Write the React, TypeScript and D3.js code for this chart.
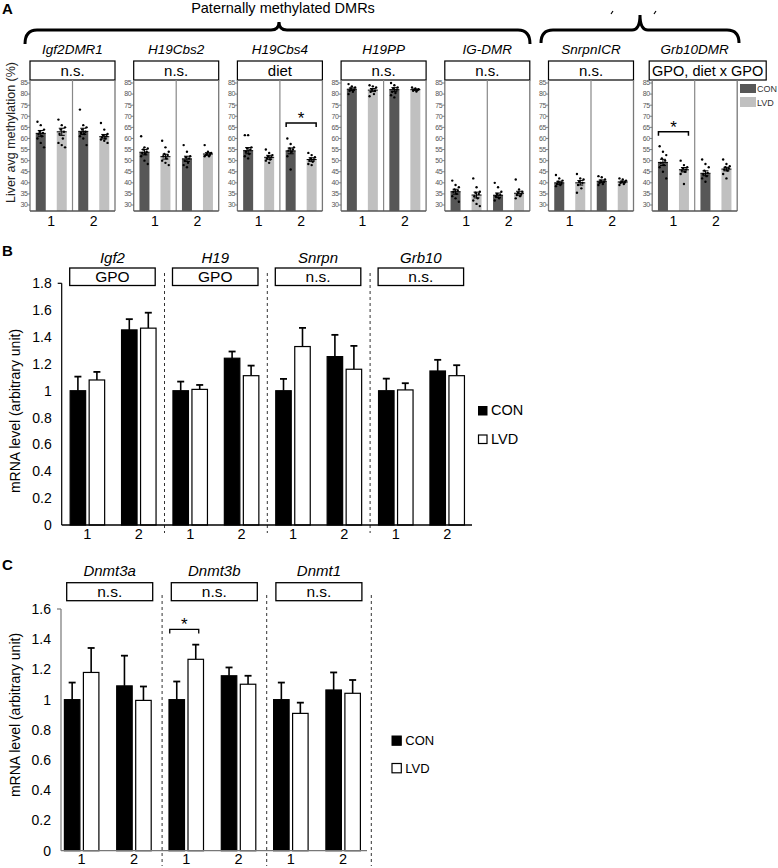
import React from "react";
import * as d3 from "d3";

const FONT = "'Liberation Sans', Arial, Helvetica, sans-serif";

// ---------------- Panel A data ----------------
const dmrNames = ["Igf2DMR1", "H19Cbs2", "H19Cbs4", "H19PP", "IG-DMR", "SnrpnICR", "Grb10DMR"];
const dmrStats = ["n.s.", "n.s.", "diet", "n.s.", "n.s.", "n.s.", "GPO, diet x GPO"];
const generations = ["1", "2"];
const diets = ["CON", "LVD"];
const methTicks = [30, 35, 40, 45, 50, 55, 60, 65, 70, 75, 80, 85];
// order: CON gen1, LVD gen1, CON gen2, LVD gen2
const methMeans = [
  [62.3, 63.0, 63.2, 60.8],
  [53.8, 51.8, 50.8, 53.0],
  [54.5, 51.5, 54.4, 50.5],
  [82.2, 81.8, 82.0, 82.0],
  [36.0, 34.5, 34.4, 35.3],
  [40.0, 40.0, 40.7, 40.4],
  [49.2, 45.9, 44.3, 46.2],
];
const methSem = [
  [1.3, 1.6, 1.4, 1.0],
  [1.2, 1.1, 1.2, 0.6],
  [1.4, 0.9, 1.3, 0.8],
  [0.6, 0.7, 0.9, 0.3],
  [1.1, 1.3, 1.0, 0.9],
  [0.7, 1.0, 0.6, 0.4],
  [1.4, 1.0, 1.1, 0.8],
];
const methPoints = [
  [
    [67.5, 66, 64, 63, 62.5, 62, 61, 60, 58, 56],
    [68.5, 66, 65, 64, 63, 62, 60, 58, 57, 56],
    [73, 66, 65, 64, 63, 62.5, 62, 61, 60, 57],
    [67, 64, 62, 61.5, 61, 60.5, 60, 59.5, 59, 58],
  ],
  [
    [61, 56, 55.5, 55, 54, 53.5, 53, 52, 50, 48.5],
    [59, 56, 54, 53, 52.5, 52, 51, 50, 49, 48],
    [57, 54, 52, 51.5, 51, 50, 49, 48, 47],
    [57, 54, 53.5, 53, 53, 52.5, 52, 52],
  ],
  [
    [61.5, 61.5, 56, 55.5, 55, 54, 53, 52, 51],
    [55, 53.5, 52.5, 52, 51.5, 51, 50.5, 50, 49],
    [60, 57.5, 56, 55.5, 55, 54.5, 54, 52, 46],
    [53.5, 52.5, 51.5, 51, 50.5, 50, 49.5, 48.5, 48],
  ],
  [
    [84.5, 83.5, 83, 82.5, 82, 81.5, 81, 80],
    [84, 83.5, 83, 82, 81.5, 81, 80, 79],
    [85, 84, 83, 82.5, 82, 81, 80.5, 79.5, 78.5],
    [83, 82.5, 82.2, 82, 81.8, 81.5, 81.2],
  ],
  [
    [41, 39, 38, 37, 36.5, 36, 35, 34, 33, 31.5],
    [42, 38, 36, 35.5, 35, 34, 33, 32, 30.5, 29.5],
    [40, 38, 36, 35, 34.5, 34, 33, 32],
    [41.5, 37, 36, 35.5, 35, 34.5, 34, 33],
  ],
  [
    [43.5, 42, 41, 40.5, 40, 39.5, 39, 38.5],
    [44, 42, 41.5, 40.5, 40, 39, 37.5, 35.5],
    [43, 42.5, 41.5, 41, 40.5, 40, 39.5, 39],
    [42, 41.5, 41, 40.5, 40.3, 40, 39.5, 39],
  ],
  [
    [56.5, 54, 52.5, 51, 50, 49, 48, 47, 45, 42],
    [50, 48, 47, 46.5, 46, 45.5, 45, 44, 39.5],
    [50.5, 48.5, 47, 45.5, 44.5, 44, 43, 42, 40.5],
    [50.5, 48.5, 47.5, 47, 46.5, 46, 45.5, 44, 42],
  ],
];
const sigA = [
  { dmr: 2, gen: "2", level: 67.0 },
  { dmr: 6, gen: "1", level: 63.0 },
];

// ---------------- Panel B data ----------------
const genesB = ["Igf2", "H19", "Snrpn", "Grb10"];
const statsB = ["GPO", "GPO", "n.s.", "n.s."];
const meansB = [
  [1.0, 1.08, 1.453, 1.466],
  [1.0, 1.01, 1.242, 1.112],
  [1.0, 1.329, 1.254, 1.16],
  [1.0, 1.006, 1.147, 1.112],
];
const errsB = [
  [0.105, 0.06, 0.08, 0.115],
  [0.068, 0.033, 0.05, 0.075],
  [0.088, 0.139, 0.162, 0.174],
  [0.09, 0.05, 0.083, 0.078],
];
const ticksB = [0, 0.2, 0.4, 0.6, 0.8, 1.0, 1.2, 1.4, 1.6, 1.8];
const tickLabelsB = ["0", "0.2", "0.4", "0.6", "0.8", "1", "1.2", "1.4", "1.6", "1.8"];

// ---------------- Panel C data ----------------
const genesC = ["Dnmt3a", "Dnmt3b", "Dnmt1"];
const statsC = ["n.s.", "n.s.", "n.s."];
const meansC = [
  [1.0, 1.18, 1.091, 0.995],
  [1.0, 1.267, 1.158, 1.102],
  [1.0, 0.909, 1.064, 1.042],
];
const errsC = [
  [0.113, 0.162, 0.2, 0.092],
  [0.12, 0.097, 0.055, 0.056],
  [0.113, 0.071, 0.116, 0.088],
];
const ticksC = [0, 0.2, 0.4, 0.6, 0.8, 1.0, 1.2, 1.4, 1.6];
const tickLabelsC = ["0", "0.2", "0.4", "0.6", "0.8", "1", "1.2", "1.4", "1.6"];
const sigC = [{ gene: 1, gen: "1", level: 1.465 }];

const DARK = "#575757";
const LIGHT = "#c0c0c0";

function PanelA() {
  const y = d3.scaleLinear().domain([27.3, 85]).range([211, 83]);
  const base = y(27.3);
  const off = d3.scalePoint<string>().domain(diets).range([-10.5, 10.5]);
  const barW = 10;
  return (
    <g>
      <text x={2} y={14} fontSize={15} fontWeight="bold">A</text>
      <text x={283} y={13} fontSize={14.5} textAnchor="middle">Paternally methylated DMRs</text>
      <path d="M25,44 Q25,30 37,30 L271,30 Q279,30 279,22 Q279,30 287,30 L518,30 Q530,30 530,44" fill="none" stroke="#000" strokeWidth={3} />
      <path d="M541,43 Q541,30 553,30 L632,30 Q640,30 640,15 Q640,30 648,30 L727,30 Q739,30 739,43" fill="none" stroke="#000" strokeWidth={3} />
      <path d="M611,14 L613,11 M654,14 L656,11" stroke="#000" strokeWidth={1.2} />
      <text transform="translate(15,132.5) rotate(-90)" fontSize={12.5} textAnchor="middle" fill="#222">Liver avg methylation (%)</text>
      {dmrNames.map((name, i) => {
        const left = 30 + i * 103.7;
        const w = 85;
        const x = d3.scaleBand<string>().domain(generations).range([left, left + w]);
        const stat = dmrStats[i];
        const wide = stat.length > 6;
        const boxX = wide ? left - 3 : left;
        const boxW = wide ? 117 : w;
        return (
          <g key={name}>
            <text x={left + w / 2} y={53.5} fontSize={13.5} fontStyle="italic" textAnchor="middle">{name}</text>
            <rect x={boxX} y={61} width={boxW} height={19} fill="#fff" stroke="#000" strokeWidth={1.2} />
            <text x={boxX + boxW / 2} y={75.5} fontSize={wide ? 14.5 : 15} textAnchor="middle">{stat}</text>
            <line x1={left} x2={left} y1={80} y2={base} stroke="#777" strokeWidth={1.3} />
            <line x1={left + w} x2={left + w} y1={80} y2={base} stroke="#777" strokeWidth={1.3} />
            <line x1={left + w / 2} x2={left + w / 2} y1={80} y2={base} stroke="#888" strokeWidth={1.2} />
            {methTicks.map((t) => (
              <g key={t}>
                <line x1={left - 2.5} x2={left} y1={y(t)} y2={y(t)} stroke="#666" strokeWidth={0.8} />
                <text x={left - 2.5} y={y(t) + 2.4} fontSize={7} textAnchor="end" fill="#555" letterSpacing={-0.4}>{t}</text>
              </g>
            ))}
            {generations.map((g, gi) => {
              const gc = (x(g) as number) + x.bandwidth() / 2;
              return (
                <g key={g}>
                  {diets.map((d, di) => {
                    const idx = gi * 2 + di;
                    const m = methMeans[i][idx];
                    const s = methSem[i][idx];
                    const cx = gc + (off(d) as number);
                    return (
                      <g key={d}>
                        <rect x={cx - barW / 2} y={y(m)} width={barW} height={base - y(m)} fill={di === 0 ? DARK : LIGHT} />
                        {methPoints[i][idx].map((v, k) => (
                          <circle key={k} cx={cx + (((k * 3) % 7) - 3) * 1.1} cy={y(v)} r={1.2} fill="#000" />
                        ))}
                        <line x1={cx} x2={cx} y1={y(m - s)} y2={y(m + s)} stroke="#000" strokeWidth={1} />
                        <line x1={cx - 3} x2={cx + 3} y1={y(m + s)} y2={y(m + s)} stroke="#000" strokeWidth={1} />
                        <line x1={cx - 3} x2={cx + 3} y1={y(m - s)} y2={y(m - s)} stroke="#000" strokeWidth={1} />
                        <line x1={cx - 5} x2={cx + 5} y1={y(m)} y2={y(m)} stroke="#000" strokeWidth={1} />
                      </g>
                    );
                  })}
                  <text x={gc} y={225.5} fontSize={14} textAnchor="middle">{g}</text>
                </g>
              );
            })}
            <line x1={left} x2={left + w} y1={base} y2={base} stroke="#555" strokeWidth={1.4} />
          </g>
        );
      })}
      {sigA.map((s, k) => {
        const left = 30 + s.dmr * 103.7;
        const x = d3.scaleBand<string>().domain(generations).range([left, left + 85]);
        const gc = (x(s.gen) as number) + x.bandwidth() / 2;
        const by = y(s.level);
        return (
          <g key={k}>
            <path d={`M${gc - 15},${by + 4} L${gc - 15},${by} L${gc + 15},${by} L${gc + 15},${by + 4}`} fill="none" stroke="#000" strokeWidth={1.5} />
            <text x={gc} y={by + 1.5} fontSize={17} textAnchor="middle">*</text>
          </g>
        );
      })}
      <rect x={740} y={84} width={16} height={9} fill={DARK} />
      <text x={757} y={92} fontSize={9} fill="#333">CON</text>
      <rect x={740} y={97} width={16} height={10} fill={LIGHT} />
      <text x={757} y={105.5} fontSize={9} fill="#333">LVD</text>
    </g>
  );
}

type MrnaProps = {
  letter: string;
  letterY: number;
  genes: string[];
  stats: string[];
  means: number[][];
  errs: number[][];
  ticks: number[];
  tickLabels: string[];
  yMax: number;
  y0: number;
  yTop: number;
  axisX: number;
  axisEnd: number;
  axisColor: string;
  xStart: number;
  step: number;
  shift: number;
  boxY: number;
  boxH: number;
  boxOff: number;
  boxW: number;
  titleY: number;
  dashTop: number;
  dashBottom: number;
  yLabelY: number;
  legendX: number;
  legendY: number;
  legendGap: number;
  legendFont: number;
  sq: number;
  sig: { gene: number; gen: string; level: number }[];
};

function MrnaPanel(p: MrnaProps) {
  const keys = p.genes.flatMap((g) => generations.map((n) => g + "|" + n));
  const x = d3.scaleBand<string>().domain(keys).range([p.xStart, p.xStart + p.step * keys.length]);
  const y = d3.scaleLinear().domain([0, p.yMax]).range([p.y0, p.yTop]);
  const off = d3.scalePoint<string>().domain(diets).range([-9.5, 9.5]);
  const barW = 15.5;
  const center = (g: string, n: string) => (x(g + "|" + n) as number) + x.bandwidth() / 2 + p.shift;
  return (
    <g>
      <text x={2} y={p.letterY} fontSize={15} fontWeight="bold">{p.letter}</text>
      <text transform={`translate(20,${p.yLabelY}) rotate(-90)`} fontSize={14} textAnchor="middle">mRNA level (arbitrary unit)</text>
      {p.genes.map((g, gi) => {
        const secStart = p.xStart + gi * 2 * p.step;
        const bx = secStart + p.boxOff;
        return (
          <g key={g}>
            <text x={bx + p.boxW / 2} y={p.titleY} fontSize={15} fontStyle="italic" textAnchor="middle">{g}</text>
            <rect x={bx} y={p.boxY} width={p.boxW} height={p.boxH} fill="#fff" stroke="#000" strokeWidth={1.3} />
            <text x={bx + p.boxW / 2} y={p.boxY + p.boxH - 3.5} fontSize={15.5} textAnchor="middle">{p.stats[gi]}</text>
          </g>
        );
      })}
      {d3.range(1, 4).map((j) => {
        const dx = p.xStart + j * 2 * p.step;
        return <line key={j} x1={dx} x2={dx} y1={p.dashTop} y2={p.dashBottom} stroke="#333" strokeWidth={1} strokeDasharray="3,3" />;
      })}
      {p.genes.map((g, gi) =>
        generations.map((n, ni) => {
          const gc = center(g, n);
          return (
            <g key={g + n}>
              {diets.map((d, di) => {
                const m = p.means[gi][ni * 2 + di];
                const e = p.errs[gi][ni * 2 + di];
                const cx = gc + (off(d) as number);
                return (
                  <g key={d}>
                    <line x1={cx} x2={cx} y1={y(m)} y2={y(m + e)} stroke="#000" strokeWidth={1.6} />
                    <line x1={cx - 3.5} x2={cx + 3.5} y1={y(m + e)} y2={y(m + e)} stroke="#000" strokeWidth={1.8} />
                    <rect x={cx - barW / 2} y={y(m)} width={barW} height={p.y0 - y(m)} fill={di === 0 ? "#000" : "#fff"} stroke="#000" strokeWidth={1.2} />
                  </g>
                );
              })}
              <text x={gc} y={p.y0 + 13.5} fontSize={14.5} textAnchor="middle">{n}</text>
            </g>
          );
        })
      )}
      <line x1={p.axisX} x2={p.axisX} y1={p.yTop} y2={p.y0} stroke={p.axisColor} strokeWidth={1.2} />
      <line x1={p.axisX - 4} x2={p.axisX} y1={p.yTop} y2={p.yTop} stroke={p.axisColor} strokeWidth={1.2} />
      <line x1={p.axisX} x2={p.axisEnd} y1={p.y0} y2={p.y0} stroke={p.axisColor} strokeWidth={1.3} />
      {p.ticks.map((t, k) => (
        <text key={t} x={p.axisX - 10} y={y(t) + 5} fontSize={14} textAnchor="end">{p.tickLabels[k]}</text>
      ))}
      {p.sig.map((s, k) => {
        const gc = center(p.genes[s.gene], s.gen);
        const by = y(s.level);
        return (
          <g key={k}>
            <path d={`M${gc - 16.5},${by + 4} L${gc - 16.5},${by} L${gc + 12.5},${by} L${gc + 12.5},${by + 4}`} fill="none" stroke="#000" strokeWidth={1.3} />
            <text x={gc - 2} y={by + 1} fontSize={17} textAnchor="middle">*</text>
          </g>
        );
      })}
      <rect x={p.legendX} y={p.legendY} width={p.sq} height={p.sq} fill="#000" stroke="#000" strokeWidth={1} />
      <text x={p.legendX + p.sq + 4} y={p.legendY + p.sq} fontSize={p.legendFont}>CON</text>
      <rect x={p.legendX} y={p.legendY + p.legendGap} width={p.sq} height={p.sq} fill="#fff" stroke="#000" strokeWidth={1.2} />
      <text x={p.legendX + p.sq + 4} y={p.legendY + p.legendGap + p.sq} fontSize={p.legendFont}>LVD</text>
    </g>
  );
}

export default function App() {
  return (
    <svg
      width={778}
      height={868}
      style={{ position: "absolute", left: 0, top: 0, display: "block", background: "#fff", fontFamily: FONT }}
    >
      <rect x={0} y={0} width={778} height={868} fill="#fff" />
      <PanelA />
      <MrnaPanel
        letter="B"
        letterY={256}
        genes={genesB}
        stats={statsB}
        means={meansB}
        errs={errsB}
        ticks={ticksB}
        tickLabels={tickLabelsB}
        yMax={1.8}
        y0={525}
        yTop={283.3}
        axisX={61.7}
        axisEnd={472}
        axisColor="#000"
        xStart={61.7}
        step={51.4}
        shift={0}
        boxY={268}
        boxH={17.5}
        boxOff={8}
        boxW={85.5}
        titleY={263}
        dashTop={273}
        dashBottom={533}
        yLabelY={411}
        legendX={478.5}
        legendY={406.5}
        legendGap={28.5}
        legendFont={14.5}
        sq={8.5}
        sig={[]}
      />
      <MrnaPanel
        letter="C"
        letterY={570}
        genes={genesC}
        stats={statsC}
        means={meansC}
        errs={errsC}
        ticks={ticksC}
        tickLabels={tickLabelsC}
        yMax={1.6}
        y0={850.7}
        yTop={609}
        axisX={61}
        axisEnd={367}
        axisColor="#777"
        xStart={57.5}
        step={52.3}
        shift={-2}
        boxY={582.7}
        boxH={18}
        boxOff={9.2}
        boxW={86}
        titleY={576}
        dashTop={595}
        dashBottom={866}
        yLabelY={715}
        legendX={392}
        legendY={736}
        legendGap={27.5}
        legendFont={13}
        sq={9.3}
        sig={sigC}
      />
    </svg>
  );
}
